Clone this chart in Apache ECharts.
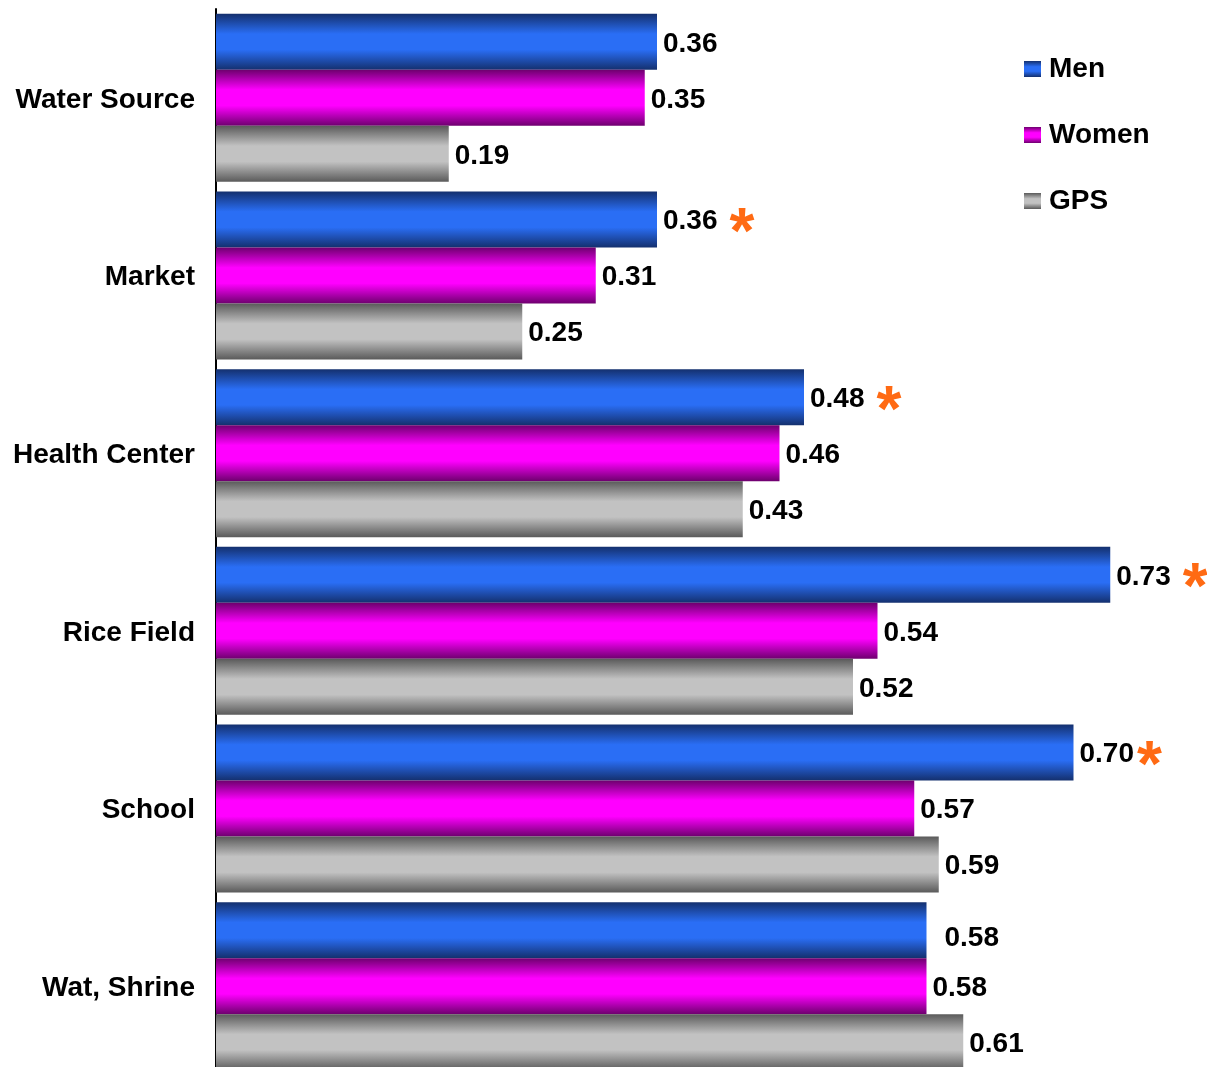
<!DOCTYPE html>
<html>
<head>
<meta charset="utf-8">
<script src="https://cdn.jsdelivr.net/npm/echarts@6/dist/echarts.min.js"></script>
<style>
  html, body { margin: 0; padding: 0; background: #fff; overflow: hidden; }
  /* the last group runs slightly past the bottom edge of the window */
  #chart { width: 1207px; height: 1085px; }
</style>
</head>
<body>
<div id="chart"></div>
<script>
// Places visited, top to bottom
const categories = ['Water Source', 'Market', 'Health Center', 'Rice Field', 'School', 'Wat, Shrine'];
const seriesNames = ['Men', 'Women', 'GPS'];
const menValues = [0.36, 0.36, 0.48, 0.73, 0.70, 0.58];
const womenValues = [0.35, 0.31, 0.46, 0.54, 0.57, 0.58];
const gpsValues = [0.19, 0.25, 0.43, 0.52, 0.59, 0.61];
// Men values flagged with an asterisk
const menStarred = [false, true, true, true, true, false];

const FONT = 'Arial, "Liberation Sans", Helvetica, sans-serif';
const FS = 28;

function tube(edge, mid) {
  return new echarts.graphic.LinearGradient(0, 0, 0, 1, [
    { offset: 0, color: edge },
    { offset: 0.36, color: mid },
    { offset: 0.64, color: mid },
    { offset: 1, color: edge }
  ]);
}

const colors = {
  Men: tube('#14306e', '#2a6ef5'),
  Women: tube('#6e006e', '#ff00ff'),
  GPS: tube('#5a5a5a', '#c2c2c2')
};

const starStyle = { fontFamily: FONT, fontSize: 64, fontWeight: 'bold', color: '#ff6a13', lineHeight: 30 };
const labelRich = {
  v: { fontFamily: FONT, fontSize: FS, fontWeight: 'bold', color: '#000', lineHeight: 30, padding: [4, 0, 0, 0] },
  s: Object.assign({ padding: [32, 0, 0, 12] }, starStyle),   // asterisk after a gap
  t: Object.assign({ padding: [32, 0, 0, 3] }, starStyle)     // asterisk set tight
};

function makeData(values, name) {
  return values.map((v, i) => {
    const item = { value: v };
    if (name === 'Men' && menStarred[i]) {
      const tag = i === 4 ? 't' : 's';
      item.label = { formatter: '{v|' + v.toFixed(2) + '}{' + tag + '|*}' };
    }
    if (name === 'Men' && i === 5) {
      item.label = { offset: [12, 6] };
    }
    return item;
  });
}

const valueSets = { Men: menValues, Women: womenValues, GPS: gpsValues };

const series = seriesNames.map(name => ({
  name: name,
  type: 'bar',
  barWidth: 56,
  barGap: '0%',
  itemStyle: { color: colors[name] },
  label: {
    show: true,
    position: 'right',
    distance: 6,
    formatter: p => '{v|' + p.value.toFixed(2) + '}',
    rich: labelRich
  },
  data: makeData(valueSets[name], name)
}));

const chart = echarts.init(document.getElementById('chart'), null, { renderer: 'canvas' });
chart.setOption({
  animation: false,
  backgroundColor: '#fff',
  grid: { left: 216, top: 9, width: 980, height: 1066, containLabel: false },
  legend: {
    orient: 'vertical',
    left: 1024,
    top: 54,
    padding: 0,
    itemWidth: 17,
    itemHeight: 16,
    itemGap: 36,
    icon: 'rect',
    textStyle: { fontFamily: FONT, fontSize: FS, fontWeight: 'bold', color: '#000', lineHeight: 30, padding: [0, 0, 0, 3] },
    data: seriesNames
  },
  xAxis: {
    type: 'value',
    min: 0,
    max: 0.8,
    show: false
  },
  yAxis: {
    type: 'category',
    inverse: true,
    data: categories,
    axisTick: { show: false },
    axisLine: { show: true, lineStyle: { color: '#000', width: 2 } },
    axisLabel: {
      margin: 21,
      formatter: v => '{c|' + v + '}',
      rich: {
        c: { fontFamily: FONT, fontSize: FS, fontWeight: 'bold', color: '#000', lineHeight: 30, padding: [4, 0, 0, 0] }
      }
    },
    splitLine: { show: false }
  },
  series: series
});
</script>
</body>
</html>
